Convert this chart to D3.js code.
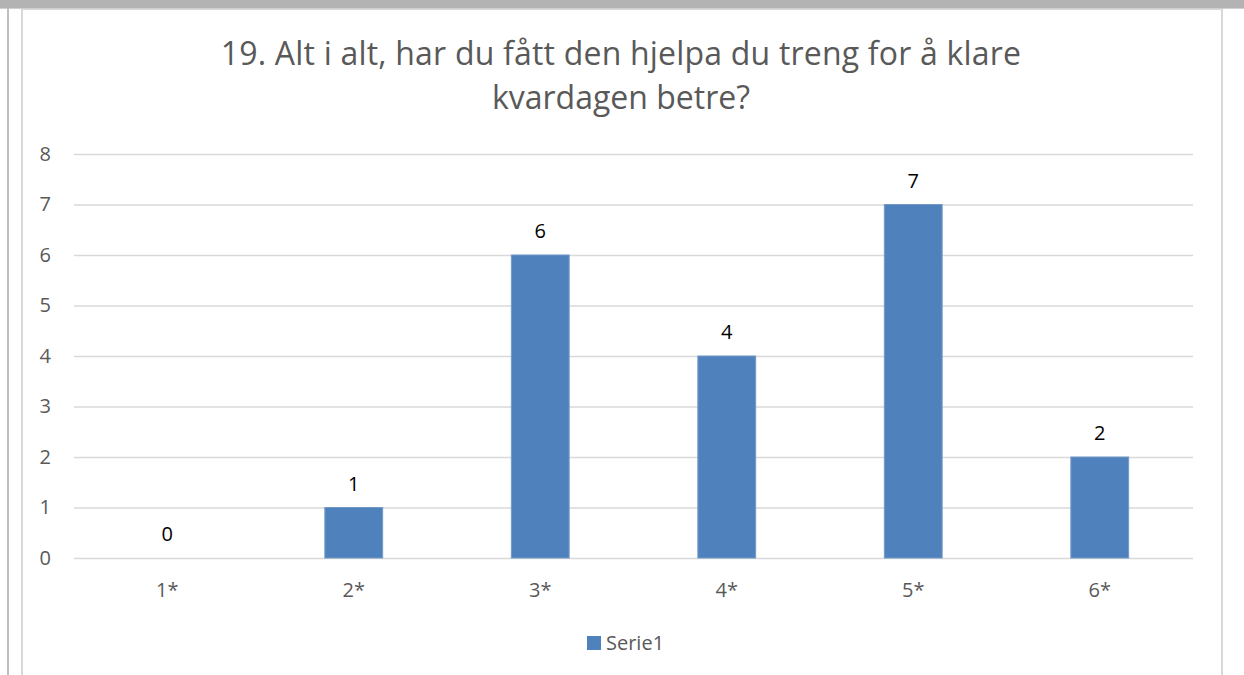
<!DOCTYPE html>
<html>
<head>
<meta charset="utf-8">
<script src="https://cdn.jsdelivr.net/npm/d3@7"></script>
<style>
  body { margin: 0; background: #fff; }
  svg { display: block; }
</style>
</head>
<body>
<script>
// chart data
const categories = ["1*", "2*", "3*", "4*", "5*", "6*"];
const values = [0, 1, 6, 4, 7, 2];
const yTicks = [0, 1, 2, 3, 4, 5, 6, 7, 8];
const seriesName = "Serie1";
const titleLines = ["19. Alt i alt, har du fått den hjelpa du treng for å klare", "kvardagen betre?"];

const width = 1244;
const height = 675;
const margin = { top: 154, right: 51, bottom: 117, left: 74 };

const svg = d3.select("body")
  .append("svg")
  .attr("width", width)
  .attr("height", height);

// page frame: grey band on top, left rule, chart border
svg.append("rect").attr("x", 0).attr("y", 0).attr("width", width).attr("height", 8).attr("fill", "#b3b3b3");
svg.append("rect").attr("x", 0).attr("y", 8).attr("width", width).attr("height", 1).attr("fill", "#cfcfcf");
svg.append("rect").attr("x", 7).attr("y", 8).attr("width", 2).attr("height", height).attr("fill", "#bfbfbf");
svg.append("rect").attr("x", 21).attr("y", 9).attr("width", 2).attr("height", height).attr("fill", "#d9d9d9");
svg.append("rect").attr("x", 1221).attr("y", 9).attr("width", 2).attr("height", height).attr("fill", "#d9d9d9");
svg.append("rect").attr("x", 21).attr("y", 9).attr("width", 1202).attr("height", 1).attr("fill", "#d9d9d9");

const font = "'Open Sans', 'Noto Sans', sans-serif";
const tickSize = 20;

// title
svg.append("g")
  .selectAll("text")
  .data(titleLines)
  .join("text")
  .attr("x", 621)
  .attr("y", (d, i) => 65 + i * 44)
  .attr("text-anchor", "middle")
  .attr("font-family", font)
  .attr("font-size", 32)
  .attr("letter-spacing", (d, i) => i === 0 ? 0.2 : 0)
  .attr("fill", "#595959")
  .text(d => d);

// scales
const x = d3.scaleBand()
  .domain(categories)
  .range([margin.left, width - margin.right])
  .paddingInner(0.69)
  .paddingOuter(0.345);

const y = d3.scaleLinear()
  .domain([0, 8])
  .range([height - margin.bottom, margin.top]);

// gridlines
svg.append("g")
  .selectAll("line")
  .data(yTicks)
  .join("line")
  .attr("x1", margin.left)
  .attr("x2", width - margin.right)
  .attr("y1", d => y(d) + 0.5)
  .attr("y2", d => y(d) + 0.5)
  .attr("stroke", "#d9d9d9")
  .attr("stroke-width", 1.5);

// y axis
const yAxis = svg.append("g")
  .attr("transform", `translate(${margin.left - 23}, 0)`)
  .call(d3.axisLeft(y).tickValues(yTicks).tickSize(0).tickPadding(0));
yAxis.select(".domain").remove();
yAxis.selectAll("text")
  .attr("font-family", font)
  .attr("font-size", tickSize)
  .attr("fill", "#595959");

// x axis
const xAxis = svg.append("g")
  .attr("transform", `translate(0, ${y(0)})`)
  .call(d3.axisBottom(x).tickSize(0).tickPadding(25));
xAxis.select(".domain").remove();
xAxis.selectAll("text")
  .attr("font-family", font)
  .attr("font-size", tickSize)
  .attr("fill", "#595959");

// bars
svg.append("g")
  .selectAll("rect")
  .data(values)
  .join("rect")
  .attr("x", (d, i) => x(categories[i]))
  .attr("y", d => y(d))
  .attr("width", x.bandwidth())
  .attr("height", d => y(0) - y(d))
  .attr("fill", "#4f81bd")
  .attr("stroke", "#7399c6")
  .attr("stroke-width", d => d > 0 ? 1 : 0);

// data labels
svg.append("g")
  .selectAll("text")
  .data(values)
  .join("text")
  .attr("x", (d, i) => x(categories[i]) + x.bandwidth() / 2)
  .attr("y", d => y(d) - 17)
  .attr("text-anchor", "middle")
  .attr("font-family", font)
  .attr("font-size", 20)
  .attr("fill", "#000")
  .text(d => d);

// legend
const legend = svg.append("g").attr("transform", "translate(587, 636)");
legend.append("rect").attr("width", 14).attr("height", 14).attr("fill", "#4f81bd");
legend.append("text")
  .attr("x", 19)
  .attr("y", 14)
  .attr("font-family", font)
  .attr("font-size", tickSize)
  .attr("fill", "#595959")
  .text(seriesName);
</script>
</body>
</html>
